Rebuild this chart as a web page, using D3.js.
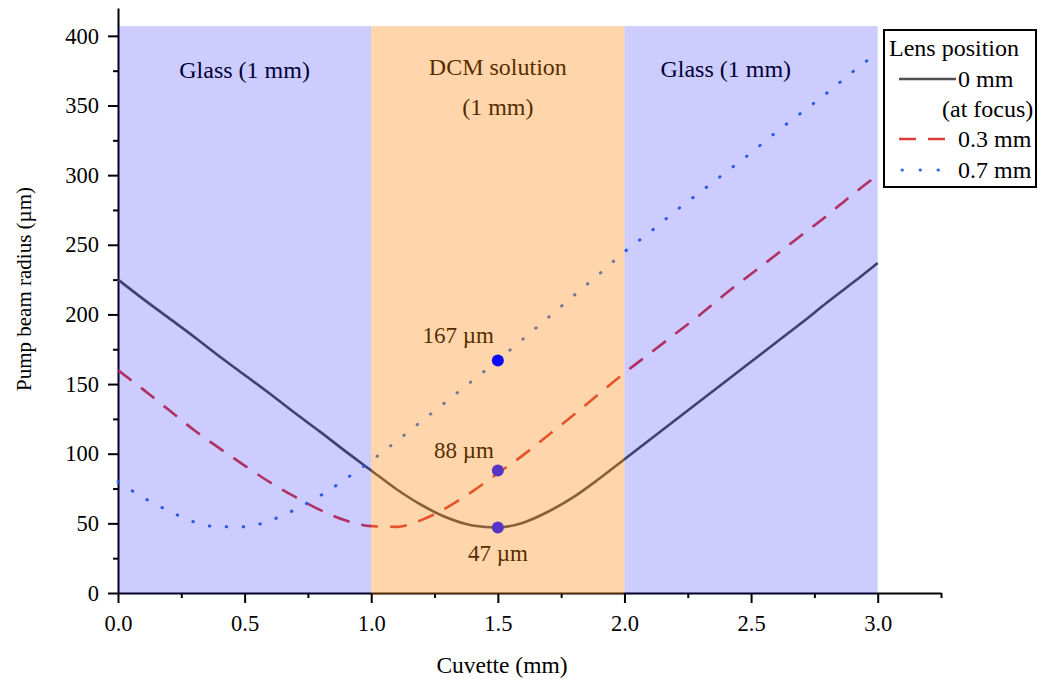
<!DOCTYPE html>
<html><head><meta charset="utf-8">
<script src="https://cdn.jsdelivr.net/npm/d3@7"></script>
<style>
body{margin:0;background:#fff}
svg{display:block}
text{font-family:"Liberation Serif","Times New Roman",Tinos,serif;fill:#000}
</style>
</head><body>
<svg id="chart" width="1042" height="684"></svg>
<script>
// ---------------- data ----------------
const cuvettePos = [0,0.1,0.2,0.3,0.4,0.5,0.6,0.7,0.8,0.9,1.0,1.1,1.2,1.3,1.4,1.5,1.6,1.7,1.8,1.9,2.0,2.1,2.2,2.3,2.4,2.5,2.6,2.7,2.8,2.9,3.0];
const lens0mm  = [225,211,197.5,184,170,156.5,143,129,115.5,101.5,88,74.5,63,54,48.5,47,50.5,58.5,69,82,96,110,124,138,152,166,180,194,208.5,222.5,237];
const lens03mm = [160,146,131.5,117,104,91.5,79.5,69,59.5,52,48,47.5,52.5,61.5,73,86,99,113.5,128,143,158,172,186,200,215,229,243,257,271,286,300];
const lens07mm = [80,68.5,59,51,47.5,47.5,52,60,70,82,95,109,123.5,138,152.5,167,182.5,198,213.5,229,245,259,274,288,302,316,331,345,359,374,388];

const xMajorTicks = [0,0.5,1.0,1.5,2.0,2.5,3.0];
const xMinorTicks = [0.25,0.75,1.25,1.75,2.25,2.75,3.25];
const yMajorTicks = [0,50,100,150,200,250,300,350,400];
const yMinorTicks = [25,75,125,175,225,275,325,375];

const regionNames = ["Glass (1 mm)", "DCM solution", "Glass (1 mm)"];
const regionStarts = [0, 1, 2];
const regionEnds = [1, 2, 3];
const regionKinds = ["glass", "dcm", "glass"];
const regionTop = 407;

const markerX = [1.5, 1.5, 1.5];
const markerY = [167, 88, 47];
const markerLabels = ["167 µm", "88 µm", "47 µm"];

const seriesNames = ["0 mm", "0.3 mm", "0.7 mm"];

// ---------------- layout ----------------
const FONT = '"Liberation Serif","Times New Roman",Tinos,serif';
const svg = d3.select("#chart");
const x = d3.scaleLinear().domain([0, 3.25]).range([118, 941]);
const y = d3.scaleLinear().domain([0, 420]).range([593, 8]);

const regionFill = {glass: "rgba(0,0,255,0.2)", dcm: "rgba(255,130,0,0.33)"};
const lineStyles = [
  {color: "#505050", width: 2.6, dash: null, cap: "butt"},
  {color: "#dc3c3c", width: 2.6, dash: "17,12", cap: "butt"},
  {color: "#3270dc", width: 3, dash: "0.5,16.5", cap: "round"}
];
const seriesData = [lens0mm, lens03mm, lens07mm];

const under = svg.append("g");

// axes
under.append("g").attr("transform", `translate(${x(0)},0)`)
  .call(d3.axisLeft(y).tickValues(yMajorTicks).tickSize(10).tickSizeOuter(0).tickPadding(9).tickFormat(d3.format("d")));
under.append("g").attr("transform", `translate(${x(0)},0)`)
  .call(d3.axisLeft(y).tickValues(yMinorTicks).tickSize(5).tickSizeOuter(0).tickFormat(""))
  .select(".domain").remove();
under.append("g").attr("transform", `translate(0,${y(0)})`)
  .call(d3.axisBottom(x).tickValues(xMajorTicks).tickSize(10).tickSizeOuter(0).tickPadding(12).tickFormat(d3.format(".1f")));
under.append("g").attr("transform", `translate(0,${y(0)})`)
  .call(d3.axisBottom(x).tickValues(xMinorTicks).tickSize(5).tickSizeOuter(0).tickFormat(""))
  .select(".domain").remove();
under.selectAll("g").attr("font-family", FONT);
under.selectAll(".domain, .tick line").attr("stroke", "#000").attr("stroke-width", 2);
under.selectAll(".tick text").attr("font-family", FONT).attr("font-size", 22.5).attr("fill", "#000");

// series lines
const lineGen = d3.line().x((d, i) => x(cuvettePos[i])).y(d => y(d)).curve(d3.curveMonotoneX);
seriesData.forEach((vals, k) => {
  const s = lineStyles[k];
  under.append("path").datum(vals).attr("d", lineGen)
    .attr("fill", "none").attr("stroke", s.color).attr("stroke-width", s.width)
    .attr("stroke-linecap", s.cap).attr("stroke-linejoin", "round")
    .attr("stroke-dasharray", s.dash);
});

// region labels
const regionMid = regionStarts.map((s, i) => (s + regionEnds[i]) / 2);
const addText = (g, tx, ty, str, size, anchor) =>
  g.append("text").attr("x", tx).attr("y", ty).attr("text-anchor", anchor || "start")
    .attr("font-family", FONT).attr("font-size", size).text(str);
addText(under, x(regionMid[0]), 78, regionNames[0], 24, "middle");
addText(under, x(regionMid[1]), 75, regionNames[1], 24, "middle");
addText(under, x(regionMid[1]), 115, "(1 mm)", 24, "middle");
addText(under, x(2.4), 77, regionNames[2], 24, "middle");

// marker labels
const labelOffsets = [[-4, -17, "end"], [-4, -12, "end"], [0, 33, "middle"]];
markerLabels.forEach((lab, i) => {
  addText(under, x(markerX[i]) + labelOffsets[i][0], y(markerY[i]) + labelOffsets[i][1], lab, 23, labelOffsets[i][2]);
});

// translucent region overlays (drawn over lines like the original)
regionStarts.forEach((s, i) => {
  svg.append("rect").attr("x", x(s)).attr("y", y(regionTop))
    .attr("width", x(regionEnds[i]) - x(s)).attr("height", y(0) - y(regionTop) + 1)
    .attr("fill", regionFill[regionKinds[i]]);
});

// markers
const markerColors = ["#0a0aff", "#5634c4", "#5634c4"];
markerX.forEach((mx, i) => {
  svg.append("circle").attr("cx", x(mx)).attr("cy", y(markerY[i])).attr("r", 6).attr("fill", markerColors[i]);
});

// legend
const lg = svg.append("g");
lg.append("rect").attr("x", 884).attr("y", 30).attr("width", 152).attr("height", 157)
  .attr("fill", "#fff").attr("stroke", "#000").attr("stroke-width", 2);
addText(lg, 889, 56, "Lens position", 24);
const legRows = [{ly: 79, ty: 87}, {ly: 139, ty: 147}, {ly: 170, ty: 178}];
seriesNames.forEach((nm, k) => {
  const s = lineStyles[k];
  const x2 = k === 0 ? 956 : (k === 1 ? 948 : 939);
  lg.append("line").attr("x1", k === 2 ? 902 : 899).attr("x2", x2)
    .attr("y1", legRows[k].ly).attr("y2", legRows[k].ly)
    .attr("stroke", s.color).attr("stroke-width", s.width)
    .attr("stroke-linecap", s.cap).attr("stroke-dasharray", k === 2 ? "0.5,17.5" : s.dash);
  addText(lg, 958, legRows[k].ty, nm, 24);
});
addText(lg, 942, 117, "(at focus)", 24);

// axis titles
addText(svg, 502, 673, "Cuvette (mm)", 23.5, "middle");
svg.append("text").attr("transform", "translate(31,289) rotate(-90)").attr("text-anchor", "middle")
  .attr("font-family", FONT).attr("font-size", 21).text("Pump beam radius (µm)");
</script>
</body></html>
